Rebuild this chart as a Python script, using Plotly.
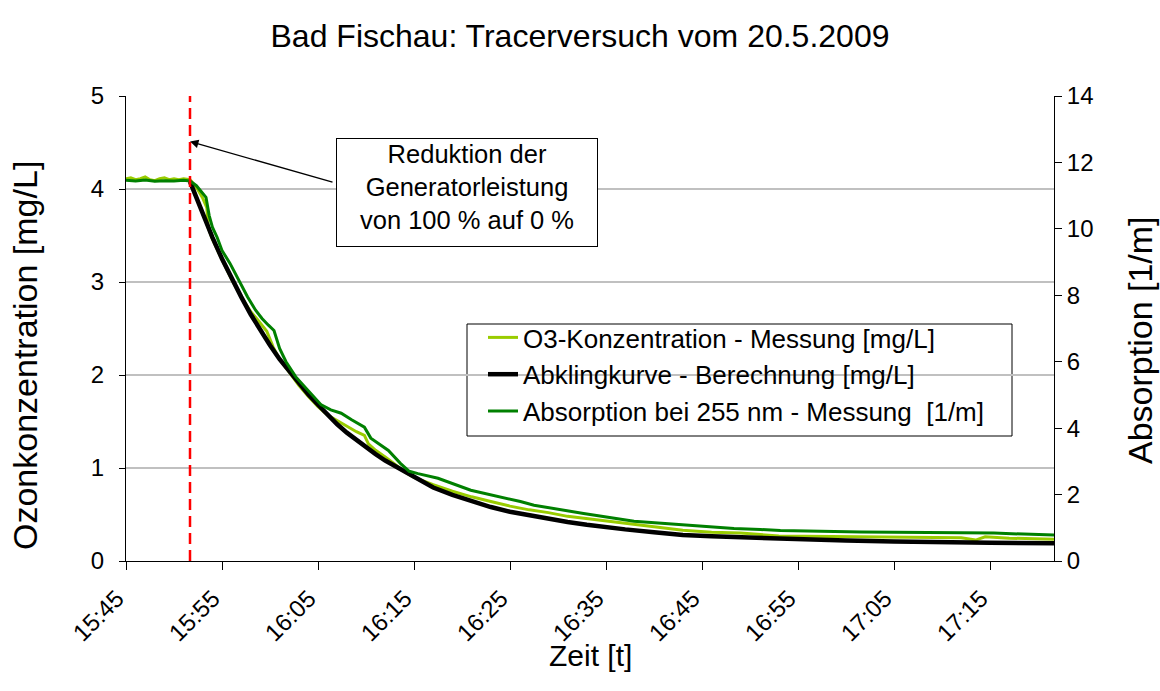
import plotly.graph_objects as go

DAY = "2009-05-20 "

# O3-Konzentration - Messung [mg/L]
o3_time = ["15:45:00", "15:45:30", "15:46:00", "15:46:30", "15:47:00", "15:47:30", "15:48:00",
           "15:48:30", "15:49:00", "15:49:30", "15:50:00", "15:50:30", "15:51:00", "15:51:40",
           "15:52:00", "15:52:30", "15:53:00", "15:53:25", "15:53:35", "15:54:00", "15:55:00",
           "15:56:00", "15:57:00", "15:58:00", "15:58:40", "15:59:00", "15:59:40", "16:00:20",
           "16:01:00", "16:02:00", "16:03:00", "16:04:00", "16:05:00", "16:06:00", "16:07:00",
           "16:08:00", "16:09:00", "16:09:50", "16:10:15", "16:11:00", "16:12:00", "16:13:00",
           "16:14:00", "16:15:00", "16:17:00", "16:19:00", "16:21:00", "16:23:00", "16:25:00",
           "16:27:00", "16:29:00", "16:31:00", "16:33:00", "16:35:00", "16:37:00", "16:40:00",
           "16:43:00", "16:46:00", "16:49:00", "16:53:00", "16:57:00", "17:02:00", "17:07:00",
           "17:12:00", "17:13:30", "17:14:30", "17:17:00", "17:21:40"]
o3_value = [4.11, 4.12, 4.10, 4.11, 4.13, 4.10, 4.09,
            4.11, 4.12, 4.10, 4.11, 4.10, 4.11, 4.10,
            4.06, 3.99, 3.90, 3.80, 3.58, 3.46, 3.24,
            3.03, 2.84, 2.68, 2.60, 2.56, 2.47, 2.30,
            2.17, 2.03, 1.89, 1.77, 1.66, 1.57, 1.51,
            1.45, 1.39, 1.35, 1.26, 1.19, 1.12, 1.04,
            0.96, 0.90, 0.82, 0.75, 0.69, 0.64, 0.59,
            0.55, 0.52, 0.48, 0.455, 0.43, 0.40, 0.36,
            0.33, 0.31, 0.30, 0.27, 0.265, 0.255, 0.25,
            0.25, 0.225, 0.26, 0.245, 0.235]

# Abklingkurve - Berechnung [mg/L]
calc_time = ["15:51:40", "15:52:00", "15:53:00", "15:54:00", "15:55:00", "15:56:00", "15:57:00",
             "15:58:00", "15:59:00", "16:00:00", "16:01:00", "16:02:00", "16:03:00", "16:04:00",
             "16:05:00", "16:06:00", "16:07:00", "16:08:00", "16:09:00", "16:10:00", "16:11:00",
             "16:12:00", "16:13:00", "16:14:00", "16:15:00", "16:17:00", "16:19:00", "16:21:00",
             "16:23:00", "16:25:00", "16:27:00", "16:29:00", "16:31:00", "16:33:00", "16:35:00",
             "16:37:00", "16:40:00", "16:43:00", "16:46:00", "16:50:00", "16:55:00", "17:00:00",
             "17:05:00", "17:10:00", "17:15:00", "17:21:40"]
calc_value = [4.08, 3.99, 3.72, 3.48, 3.25, 3.04, 2.84,
              2.65, 2.48, 2.32, 2.17, 2.04, 1.91, 1.79,
              1.68, 1.57, 1.47, 1.38, 1.30, 1.22, 1.15,
              1.08, 1.02, 0.96, 0.90, 0.79, 0.71, 0.64,
              0.58, 0.53, 0.49, 0.45, 0.42, 0.39, 0.36,
              0.34, 0.31, 0.28, 0.265, 0.25, 0.23, 0.22,
              0.21, 0.20, 0.195, 0.19]

# Absorption bei 255 nm - Messung [1/m]
abs_time = ["15:45:00", "15:46:00", "15:47:00", "15:48:00", "15:49:00", "15:50:00", "15:51:00",
            "15:51:40", "15:52:20", "15:52:50", "15:53:20", "15:53:40", "15:54:00", "15:54:30",
            "15:55:00", "15:55:50", "15:57:00", "15:57:40", "15:58:30", "15:59:10", "15:59:50",
            "16:00:25", "16:01:00", "16:01:40", "16:02:40", "16:03:55", "16:05:20", "16:06:20",
            "16:07:25", "16:08:30", "16:09:50", "16:10:30", "16:12:20", "16:13:35", "16:14:30",
            "16:15:25", "16:17:30", "16:20:55", "16:24:05", "16:26:05", "16:27:30", "16:32:40",
            "16:37:55", "16:43:05", "16:48:20", "16:51:05", "16:53:10", "17:01:35", "17:12:00",
            "17:15:25", "17:21:40"]
abs_value = [11.46, 11.44, 11.47, 11.43, 11.45, 11.44, 11.46,
             11.44, 11.30, 11.14, 10.95, 10.40, 10.05, 9.74,
             9.35, 8.96, 8.30, 7.95, 7.55, 7.30, 7.10,
             6.94, 6.40, 6.00, 5.55, 5.15, 4.70, 4.55,
             4.45, 4.25, 4.03, 3.70, 3.33, 2.94, 2.70,
             2.63, 2.49, 2.13, 1.93, 1.79, 1.68, 1.43,
             1.20, 1.09, 0.98, 0.95, 0.92, 0.87, 0.84,
             0.84, 0.78]

event_time = "15:51:40"
event_arrow_value = 4.51
x_start, x_end = "15:45:00", "17:21:40"
tick_start = "15:45:00"

FONT = "Liberation Sans, Arial, sans-serif"
PL, PR, PT, PB = 126, 1054, 96, 561   # plot area in page pixels


def px_x(p):
    return (p - PL) / (PR - PL)


def px_y(p):
    return (PB - p) / (PB - PT)


fig = go.Figure()
fig.add_trace(go.Scatter(x=[DAY + t for t in o3_time], y=o3_value, mode="lines",
                         name="O3-Konzentration - Messung [mg/L]",
                         line=dict(color="#99CC00", width=3)))
fig.add_trace(go.Scatter(x=[DAY + t for t in calc_time], y=calc_value, mode="lines",
                         name="Abklingkurve - Berechnung [mg/L]",
                         line=dict(color="#000000", width=4.5)))
fig.add_trace(go.Scatter(x=[DAY + t for t in abs_time], y=abs_value, mode="lines",
                         name="Absorption bei 255 nm - Messung  [1/m]", yaxis="y2",
                         line=dict(color="#008000", width=3)))

# red dashed marker line
fig.add_shape(type="line", xref="x", yref="y", x0=DAY + event_time, x1=DAY + event_time,
              y0=0, y1=5, line=dict(color="#FF0000", width=2.5, dash="11px,6px"), layer="above")

# legend frame
fig.add_shape(type="rect", xref="paper", yref="paper", x0=px_x(467), x1=px_x(1012),
              y0=px_y(436), y1=px_y(324), line=dict(color="black", width=1),
              fillcolor="white", layer="below")

# arrow
fig.add_annotation(x=DAY + event_time, y=event_arrow_value, xref="x", yref="y",
                   text="", showarrow=True, ax=144, ay=41, arrowhead=2, arrowsize=1.3,
                   arrowwidth=1.3, arrowcolor="black")
# text box
fig.add_annotation(xref="paper", yref="paper", x=px_x(467), y=px_y(192.5),
                   xanchor="center", yanchor="middle", showarrow=False,
                   text="Reduktion der<br>Generatorleistung<br>von 100 % auf 0 %",
                   font=dict(family=FONT, size=25.5, color="black"),
                   width=258, height=105, valign="top", align="center",
                   bordercolor="black", borderwidth=1, borderpad=1, bgcolor="white")

# axis titles
fig.add_annotation(xref="paper", yref="paper", x=px_x(25), y=px_y(356),
                   xanchor="center", yanchor="middle", showarrow=False, textangle=-90,
                   text="Ozonkonzentration [mg/L]", font=dict(family=FONT, size=34, color="black"))
fig.add_annotation(xref="paper", yref="paper", x=px_x(1140), y=px_y(340),
                   xanchor="center", yanchor="middle", showarrow=False, textangle=-90,
                   text="Absorption [1/m]", font=dict(family=FONT, size=34, color="black"))
fig.add_annotation(xref="paper", yref="paper", x=px_x(590), y=px_y(655),
                   xanchor="center", yanchor="middle", showarrow=False,
                   text="Zeit [t]", font=dict(family=FONT, size=30, color="black"))

fig.update_layout(
    width=1160, height=691,
    margin=dict(l=PL, r=1160 - PR, t=PT, b=691 - PB, autoexpand=False),
    paper_bgcolor="white", plot_bgcolor="white",
    font=dict(family=FONT, color="black", size=24),
    title=dict(text="Bad Fischau: Tracerversuch vom 20.5.2009", x=0.5, xanchor="center",
               y=1 - 36 / 691, yanchor="middle", yref="container",
               font=dict(family=FONT, size=32, color="black")),
    showlegend=True,
    legend=dict(x=px_x(483), y=px_y(314), xanchor="left", yanchor="top",
                borderwidth=0, bgcolor="rgba(0,0,0,0)",
                font=dict(family=FONT, size=26, color="black"),
                tracegroupgap=0, itemwidth=30),
    xaxis=dict(type="date", range=[DAY + x_start, DAY + x_end],
               tick0=DAY + tick_start, dtick=600000, tickformat="%H:%M",
               tickangle=-45, ticks="outside", ticklen=8, tickcolor="black",
               ticklabelstandoff=5, ticklabelshift=-9,
               showline=True, linecolor="black", linewidth=1, showgrid=False,
               zeroline=False, tickfont=dict(size=24), automargin=False),
    yaxis=dict(range=[0, 5], dtick=1, ticks="outside", ticklen=6, tickcolor="black",
               ticklabelstandoff=10, automargin=False,
               showline=True, linecolor="black", linewidth=1,
               showgrid=True, gridcolor="#c0c0c0", gridwidth=1.5, zeroline=False,
               tickfont=dict(size=24)),
    yaxis2=dict(range=[0, 14], dtick=2, overlaying="y", side="right", ticks="outside",
                ticklen=7, tickcolor="black", showline=True, linecolor="black", linewidth=1,
                showgrid=False, zeroline=False, tickfont=dict(size=24), automargin=False),
)

fig.write_html("out.html", config={"displayModeBar": False})
with open("out.html", "r", encoding="utf-8") as fh:
    html = fh.read()
html = html.replace("<head>", "<head><style>html,body{margin:0;padding:0;}</style>", 1)
with open("out.html", "w", encoding="utf-8") as fh:
    fh.write(html)
